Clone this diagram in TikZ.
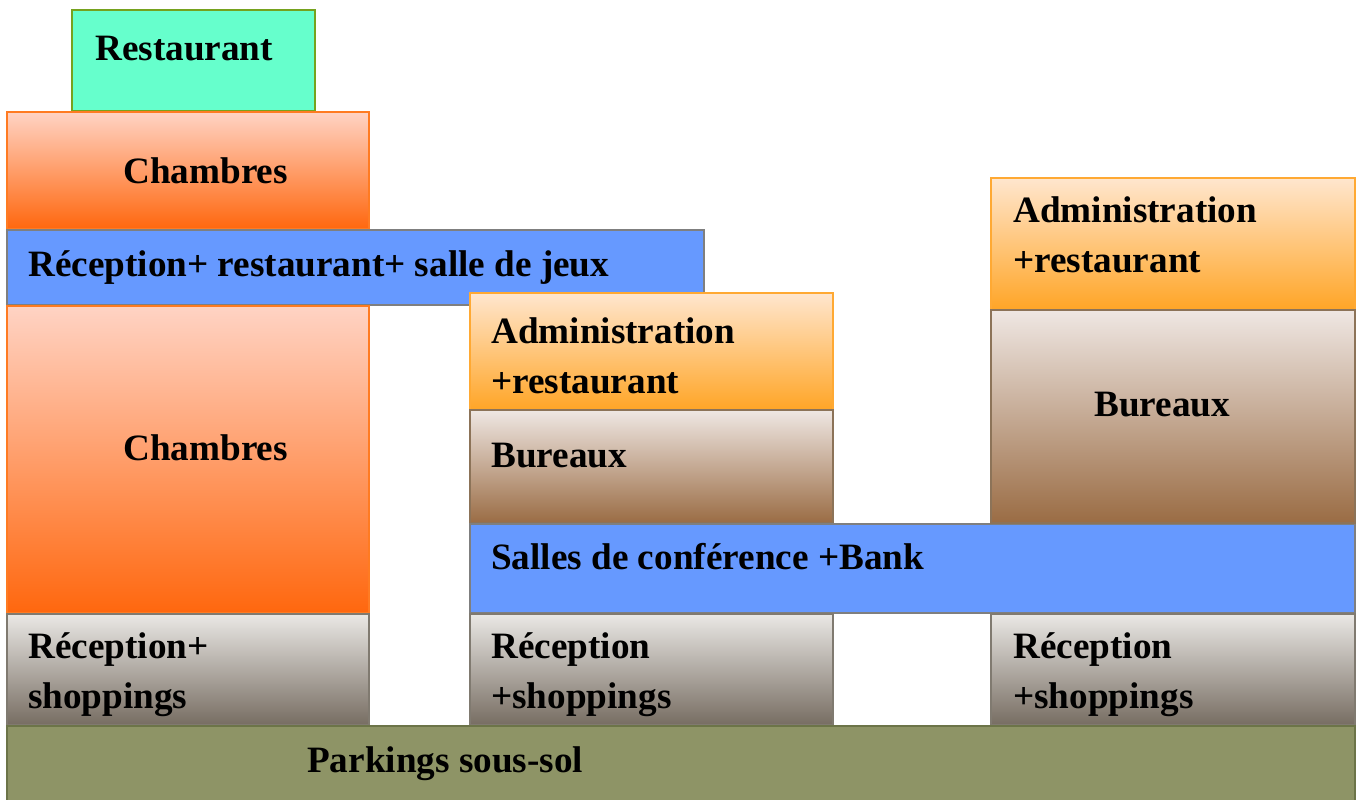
\documentclass[tikz,border=0pt]{standalone}
\usepackage{fontspec}
\setmainfont{Liberation Serif}
\usepackage{xcolor}
\usetikzlibrary{positioning}

\definecolor{restoFill}{HTML}{66FFCC}
\definecolor{restoLine}{HTML}{76A21E}
\definecolor{chTop}{HTML}{FFD3C4}
\definecolor{chMid}{HTML}{FF9468}
\definecolor{chBot}{HTML}{FF670E}
\definecolor{chLine}{HTML}{FF7B22}
\definecolor{barFill}{HTML}{6699FF}
\definecolor{barLine}{HTML}{7F7F7F}
\definecolor{admTop}{HTML}{FFE6CE}
\definecolor{admBot}{HTML}{FFA526}
\definecolor{admLine}{HTML}{FFA933}
\definecolor{burTop}{HTML}{EFE7E3}
\definecolor{burBot}{HTML}{9A6C44}
\definecolor{burLine}{HTML}{8C7358}
\definecolor{recTop}{HTML}{EAE8E5}
\definecolor{recBot}{HTML}{776D62}
\definecolor{recLine}{HTML}{807A70}
\definecolor{parkFill}{HTML}{8E9466}
\definecolor{parkLine}{HTML}{6C7448}

\begin{document}
\begin{tikzpicture}[
  x=1pt, y=1pt,
  lbl/.style={font=\fontsize{37.2}{50}\selectfont\bfseries, inner sep=0pt,
              anchor=base west, align=left},
  resto/.style={fill=restoFill, draw=restoLine, line width=1.5pt},
  chambre/.style={top color=chTop, middle color=chMid, bottom color=chBot,
                  draw=chLine, line width=1.2pt},
  bar/.style={fill=barFill, draw=barLine, line width=1.2pt},
  admin/.style={top color=admTop, bottom color=admBot, draw=admLine, line width=1.2pt},
  bureau/.style={top color=burTop, bottom color=burBot, draw=burLine, line width=1.2pt},
  accueil/.style={top color=recTop, bottom color=recBot, draw=recLine, line width=1.2pt},
  parking/.style={fill=parkFill, draw=parkLine, line width=1.5pt}
]
  \useasboundingbox (0,0) rectangle (1363,-800);

  % --- left tower ----------------------------------------------------
  \path[resto]   (72,-10)  rectangle (315,-111);
  \path[chambre] (7,-112)  rectangle (369,-229);
  \path[bar]     (7,-230)  rectangle (704,-305);
  \path[chambre] (7,-306)  rectangle (369,-613);
  \path[accueil] (7,-614)  rectangle (369,-725);

  % --- middle tower --------------------------------------------------
  \path[admin]   (470,-293) rectangle (833,-410);
  \path[bureau]  (470,-410) rectangle (833,-523);
  \path[bar]     (470,-524) rectangle (1355,-613);
  \path[accueil] (470,-614) rectangle (833,-725);

  % --- right tower ---------------------------------------------------
  \path[admin]   (991,-178) rectangle (1355,-310);
  \path[bureau]  (991,-310) rectangle (1355,-523);
  \path[accueil] (991,-614) rectangle (1355,-725);

  % --- basement ------------------------------------------------------
  \path[parking] (7,-726) rectangle (1355,-806);

  % --- labels (two-line nodes sit on their last baseline) ------------
  \node[lbl] (restaurant) at (95,-61)  {Restaurant};
  \node[lbl] (chambresH)  at (123,-183) {Chambres};
  \node[lbl] (jeux)       at (28,-276) {Réception+ restaurant+ salle de jeux};
  \node[lbl] (chambresB)  at (123,-460) {Chambres};
  \node[lbl] (accueilA)   at (28,-708) {Réception+\\shoppings};

  \node[lbl] (adminB)     at (491,-393) {Administration\\+restaurant};
  \node[lbl] (bureauxB)   at (491,-467) {Bureaux};
  \node[lbl] (conference) at (491,-569) {Salles de conférence +Bank};
  \node[lbl] (accueilB)   at (491,-708) {Réception\\+shoppings};

  \node[lbl] (adminC)     at (1013,-272) {Administration\\+restaurant};
  \node[lbl] (bureauxC)   at (1094,-416) {Bureaux};
  \node[lbl] (accueilC)   at (1013,-708) {Réception\\+shoppings};

  \node[lbl] (parkings)   at (307,-772) {Parkings sous-sol};
\end{tikzpicture}
\end{document}
